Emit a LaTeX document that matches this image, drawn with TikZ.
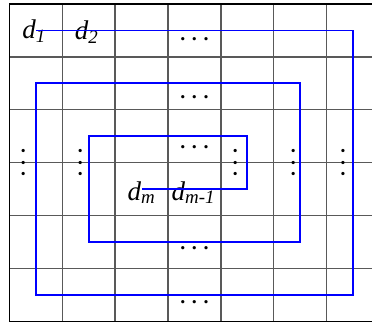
\documentclass[tikz,border=0pt]{standalone}
\usepackage{fontspec}
\setmainfont{Liberation Serif}
\tikzstyle{gridline}=[black!65, line width=1.3pt]
\tikzstyle{frameline}=[black, line width=1.5pt]
\tikzstyle{spiral}=[blue, line width=1.9pt, line join=miter]
\tikzstyle{entry}=[inner sep=0pt, anchor=base, font=\fontsize{27}{31}\selectfont\itshape]
\tikzstyle{hdots}=[inner sep=0pt, font=\fontsize{20}{24}\selectfont\bfseries]
\tikzstyle{vdots}=[hdots, rotate=90]

\begin{document}
\begin{tikzpicture}[x=52.9pt, y=-52.9pt]
			\useasboundingbox (-0.176,-0.076) rectangle (6.856,6.068);

			% Cells of the matrix
			\foreach \x in {1,...,6}{ \draw[gridline] (\x,0) -- (\x,6); }
			\foreach \y in {1,...,5}{ \draw[gridline] (0,\y) -- (6.856,\y); }
			\draw[frameline] (6.856,0) -- (0,0) -- (0,6) -- (6.856,6);

			% Entries
			\node[entry] (d1) at (0.467,0.648) {d\textsubscript{1}};
			\node[entry] (d2) at (1.46,0.667) {d\textsubscript{2}};
			\node[entry] (dm) at (2.499,3.705) {d\textsubscript{m}};
			\node[entry] (dmm) at (3.48,3.705) {d\textsubscript{m-1}};

			\foreach \y [count=\i] in {0.66, 1.77, 2.70, 4.61, 5.64}{
				\node[hdots] (h\i) at (3.5,\y) {. . .};
			}
			\foreach \x [count=\i] in {0.265, 1.34, 4.27, 5.37, 6.31}{
				\node[vdots] (v\i) at (\x,3) {. . .};
			}

			% Spiral order
			\draw[spiral] (0.5,0.5) -- (6.5,0.5) -- (6.5,5.5) -- (0.5,5.5) -- (0.5,1.5)
				-- (5.5,1.5) -- (5.5,4.5) -- (1.5,4.5) -- (1.5,2.5) -- (4.5,2.5)
				-- (4.5,3.5) -- (2.5,3.5);
\end{tikzpicture}
\end{document}
